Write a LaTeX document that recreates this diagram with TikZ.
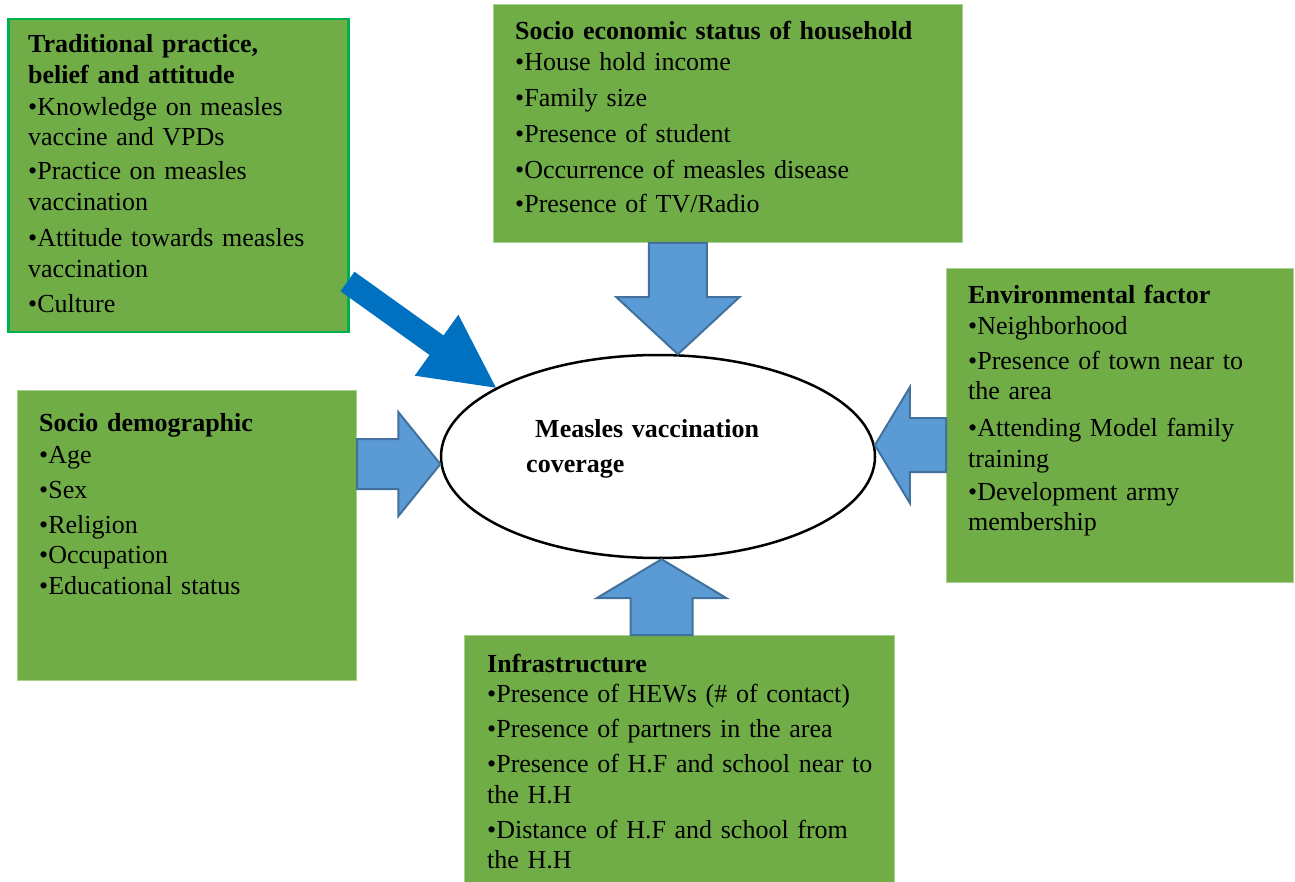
\documentclass[tikz,border=0pt]{standalone}
\usepackage{fontspec}
\setmainfont{Liberation Serif}
\usetikzlibrary{shapes.geometric,calc}

\definecolor{boxgreen}{HTML}{70AD47}
\definecolor{boxrim}{HTML}{A9D18E}
\definecolor{rimgreen}{HTML}{00B050}
\definecolor{arrowblue}{HTML}{5B9BD5}
\definecolor{arrowrim}{HTML}{41719C}
\definecolor{darkblue}{HTML}{0070C0}

% 粗箭头: [样式]{尾}{尖}{杆半宽}{头半宽}{头长}
\newcommand\fatarrow[6][]{%
  \coordinate (fa-h) at ($(#3)!#6!(#2)$);
  \draw[fat,#1] ($(#2)!#4!90:(#3)$) -- ($(fa-h)!#4!90:(#3)$) -- ($(fa-h)!#5!90:(#3)$)
    -- (#3) -- ($(fa-h)!#5!-90:(#3)$) -- ($(fa-h)!#4!-90:(#3)$) -- ($(#2)!#4!-90:(#3)$) -- cycle;
}

\begin{document}
\begin{tikzpicture}[x=1pt,y=-1pt,
  factor/.style={rectangle,fill=boxgreen,draw=boxrim,line width=1pt,inner sep=0pt,anchor=north west},
  items/.style={anchor=base west,inner sep=0pt,align=left,text width=440pt,font=\fontsize{26}{30.5}\selectfont},
  hub/.style={ellipse,draw,line width=2.5pt,fill=white,minimum width=434pt,minimum height=203pt,inner sep=0pt},
  fat/.style={fill=arrowblue,draw=arrowrim,line width=2pt,line join=miter}]
  \useasboundingbox (0,0) rectangle (1295,882);

  % 五个因素框
  \node[factor,draw=rimgreen,line width=2.5pt,minimum width=340pt,minimum height=313pt] (trad) at (7,18) {};
  \node[factor,minimum width=469pt,minimum height=238pt] (socio) at (493,4) {};
  \node[factor,minimum width=347pt,minimum height=314pt] (env) at (946,268) {};
  \node[factor,minimum width=339pt,minimum height=290pt] (demo) at (17,390) {};
  \node[factor,minimum width=430pt,minimum height=247pt] (infra) at (464,635) {};

  \node[items] (tradtext) at ([shift={(21,35)}]trad.north west)
    {\textbf{Traditional practice,}\\\textbf{belief and attitude}\\[1.5pt]
     •Knowledge on measles\\vaccine and VPDs\\[3.5pt]
     •Practice on measles\\vaccination\\[6pt]
     •Attitude towards measles\\vaccination\\[5pt]
     •Culture};
  \node[items] (sociotext) at ([shift={(22,36)}]socio.north west)
    {\textbf{Socio economic status of household}\\
     •House hold income\\[5.5pt]
     •Family size\\[5.5pt]
     •Presence of student\\[5.5pt]
     •Occurrence of measles disease\\[3.5pt]
     •Presence of TV/Radio};
  \node[items] (envtext) at ([shift={(22,36)}]env.north west)
    {\textbf{Environmental factor}\\
     •Neighborhood\\[4.5pt]
     •Presence of town near to\\the area\\[6.5pt]
     •Attending Model family\\training\\[2.5pt]
     •Development army\\membership};
  \node[items] (demotext) at ([shift={(22,41)}]demo.north west)
    {\textbf{Socio demographic}\\[1.5pt]
     •Age\\[4.5pt]
     •Sex\\[4.5pt]
     •Religion\\
     •Occupation\\
     •Educational status};
  \node[items] (infratext) at ([shift={(23,37)}]infra.north west)
    {\textbf{Infrastructure}\\
     •Presence of HEWs (\# of contact)\\[4.5pt]
     •Presence of partners in the area\\[4.5pt]
     •Presence of H.F and school near to\\the H.H\\[4.5pt]
     •Distance of H.F and school from\\the H.H};

  % 中心椭圆
  \node[hub] (cov) at (658,456.5) {};
  \node[items,font=\bfseries\fontsize{26}{35}\selectfont] (covtext) at (535,437)
    {Measles vaccination\\\hspace*{-9pt}coverage};

  % 箭头
  \coordinate (tradtail) at (347.5,281.5);
  \fatarrow{cov.79 |- socio.south}{cov.79}{29pt}{61.5pt}{57pt}
  \fatarrow{cov.272 |- infra.north}{cov.272}{31pt}{65pt}{39pt}
  \fatarrow{demo.east |- cov.182}{cov.182}{25pt}{52pt}{42pt}
  \fatarrow{env.west |- cov.3}{cov.3}{27pt}{58pt}{35pt}
  \fatarrow[fill=darkblue,draw=none]{tradtail}{cov.157}{12pt}{37.5pt}{73pt}
\end{tikzpicture}
\end{document}
